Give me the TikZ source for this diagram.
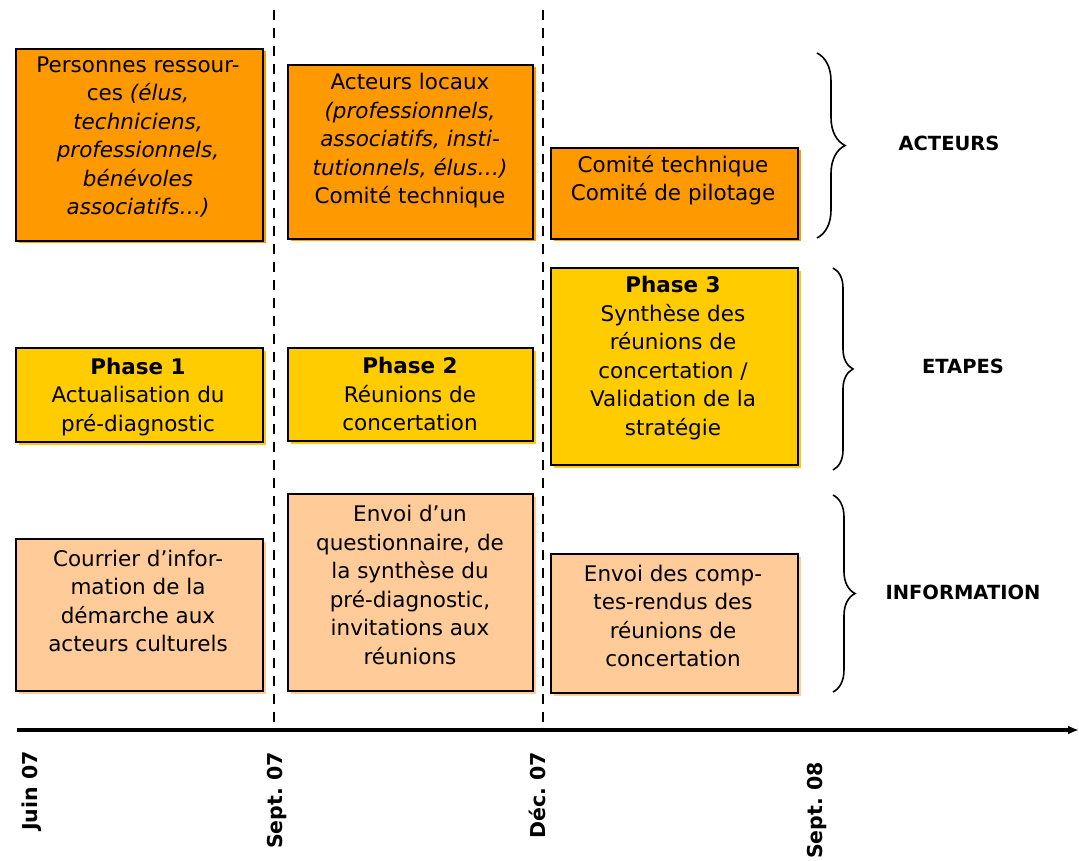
\documentclass[tikz,border=0pt]{standalone}
\usepackage{fontspec}
\setmainfont{DejaVu Sans}
\usepackage{xcolor}
\usepackage{tikz}
\usetikzlibrary{calc}
\usetikzlibrary{shadows}
\usetikzlibrary{decorations.pathreplacing}
\usetikzlibrary{arrows.meta}

\definecolor{acteur}{HTML}{FF9900}
\definecolor{etape}{HTML}{FFCC00}
\definecolor{envoi}{HTML}{FFCC99}

\tikzset{
	box/.style={rectangle, draw=black, line width=2pt, inner sep=0pt, anchor=north west,
		fill=#1, general shadow={fill=#1, shadow xshift=2.5pt, shadow yshift=-2.5pt}},
	boxtext/.style={align=center, inner sep=0pt, font=\fontsize{21.5}{28.5}\selectfont},
	datelabel/.style={rotate=90, anchor=east, inner sep=0pt, font=\bfseries\fontsize{20.5}{24}\selectfont},
	rowlabel/.style={inner sep=0pt, font=\bfseries\fontsize{19.5}{22}\selectfont},
	period/.style={line width=2.6pt, dash pattern=on 10pt off 8pt},
	accolade/.style={decorate, decoration={brace, amplitude=#1}, line width=1.6pt}
}

\begin{document}
\begin{tikzpicture}[x=1pt,y=-1pt,>=latex]
		\useasboundingbox (0,0) rectangle (1079,861);

		% periodes
		\coordinate (s7top) at (274,10);
		\coordinate (s7bot) at (274,722);
		\coordinate (d7top) at (543,10);
		\coordinate (d7bot) at (543,722);
		\draw[period] (s7top) -- (s7bot);
		\draw[period] (d7top) -- (d7bot);

		% Acteurs
		\node[box=acteur, minimum width=247pt, minimum height=192pt] (act1) at (15,48) {};
		\node[boxtext] (act1t) at (138,137) {Personnes ressour-\\ces \textit{(élus,}\\\textit{techniciens,}\\\textit{professionnels,}\\\textit{bénévoles}\\\textit{associatifs…)}};
		\node[box=acteur, minimum width=245pt, minimum height=174pt] (act2) at (287,64) {};
		\node[boxtext] (act2t) at (410,141) {Acteurs locaux\\\textit{(professionnels,}\\\textit{associatifs, insti-}\\\textit{tutionnels, élus…)}\\Comité technique};
		\node[box=acteur, minimum width=247pt, minimum height=91pt] (act3) at (550,147) {};
		\node[boxtext] (act3t) at (673,180) {Comité technique\\Comité de pilotage};

		% Etapes
		\node[box=etape, minimum width=247pt, minimum height=94pt] (eta1) at (15,347) {};
		\node[boxtext] (eta1t) at (138,397) {\textbf{Phase 1}\\Actualisation du\\pré-diagnostic};
		\node[box=etape, minimum width=245pt, minimum height=93pt] (eta2) at (287,347) {};
		\node[boxtext] (eta2t) at (410,394) {\textbf{Phase 2}\\Réunions de\\concertation};
		\node[box=etape, minimum width=247pt, minimum height=197pt] (eta3) at (550,267) {};
		\node[boxtext] (eta3t) at (673,358) {\textbf{Phase 3}\\Synthèse des\\réunions de\\concertation /\\Validation de la\\stratégie};

		% Information
		\node[box=envoi, minimum width=247pt, minimum height=152pt] (inf1) at (15,538) {};
		\node[boxtext] (inf1t) at (138,601) {Courrier d’infor-\\mation de la\\démarche aux\\acteurs culturels};
		\node[box=envoi, minimum width=245pt, minimum height=197pt] (inf2) at (287,493) {};
		\node[boxtext] (inf2t) at (410,585) {Envoi d’un\\questionnaire, de\\la synthèse du\\pré-diagnostic,\\invitations aux\\réunions};
		\node[box=envoi, minimum width=247pt, minimum height=139pt] (inf3) at (550,553) {};
		\node[boxtext] (inf3t) at (673,616) {Envoi des comp-\\tes-rendus des\\réunions de\\concertation};

		% accolades
		\coordinate (ba1) at (817,53);
		\coordinate (ba2) at (817,238);
		\coordinate (be1) at (833,268);
		\coordinate (be2) at (833,470);
		\coordinate (bi1) at (833,495);
		\coordinate (bi2) at (833,692);
		\draw[accolade=28pt] (ba1) -- (ba2);
		\draw[accolade=20pt] (be1) -- (be2);
		\draw[accolade=22pt] (bi1) -- (bi2);
		\node[rowlabel] (acteurs) at (949,143) {ACTEURS};
		\node[rowlabel] (etapes) at (963,366) {ETAPES};
		\node[rowlabel] (information) at (963,592) {INFORMATION};

		% axe du temps
		\coordinate (t0) at (17,730);
		\coordinate (t1) at (1079,730);
		\draw[-{Latex[length=11pt,width=9pt]}, line width=4.5pt] (t0) -- (t1);
		\node[datelabel] (juin07) at (32,751) {Juin 07};
		\node[datelabel] (sept07) at (277,752) {Sept.\ 07};
		\node[datelabel] (dec07) at (537,752) {Déc.\ 07};
		\node[datelabel] (sept08) at (817,762) {Sept.\ 08};
\end{tikzpicture}
\end{document}
